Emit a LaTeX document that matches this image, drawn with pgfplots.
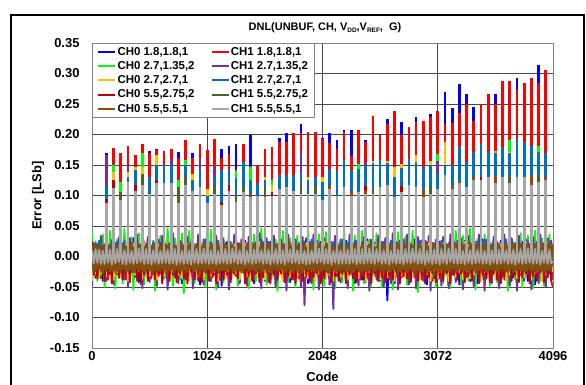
\documentclass[border=0pt]{standalone}
\usepackage{fontspec}
\setmainfont{Liberation Sans}
\usepackage{pgfplots}
\usepackage{pgfplotstable}
\pgfplotsset{compat=1.18}
\definecolor{cB}{HTML}{0000FF}
\definecolor{cR}{HTML}{FF0000}
\definecolor{cG}{HTML}{00FF00}
\definecolor{cP}{HTML}{7030A0}
\definecolor{cO}{HTML}{FFC000}
\definecolor{cS}{HTML}{0070C0}
\definecolor{cD}{HTML}{C00000}
\definecolor{cV}{HTML}{4F6228}
\definecolor{cN}{HTML}{984807}
\definecolor{cA}{HTML}{A6A6A6}
\newcommand\sub[1]{\raisebox{-0.3ex}{\fontsize{6.5}{7}\selectfont #1}}
% DNL in thousandths of an LSb: spike codes (every 64th code)
\pgfplotstableread{
x B R G P O S D V N A
128 170 150 72 166 72 117 95 72 72 87
192 97 178 150 97 139 97 125 97 97 112
256 77 169 122 77 77 77 77 105 77 92
320 107 181 107 146 138 130 107 107 107 122
384 93 166 93 93 146 141 117 93 93 108
448 102 184 169 102 147 102 102 136 102 117
512 173 169 88 88 88 130 88 88 88 103
576 176 174 105 105 166 150 125 105 105 120
640 105 173 105 105 105 150 105 105 105 120
704 105 176 105 160 105 150 105 105 105 120
768 171 161 126 72 72 72 72 114 92 87
832 102 191 158 102 102 150 102 131 102 117
896 170 161 93 93 136 125 93 93 93 108
960 99 184 99 161 99 141 99 99 99 114
1024 73 174 73 73 110 100 73 73 73 88
1088 88 192 88 146 88 130 88 117 88 103
1152 177 162 69 69 69 141 90 69 69 84
1216 181 168 93 93 93 141 118 93 93 108
1280 184 144 140 74 74 128 74 100 74 89
1344 91 184 91 91 91 155 91 114 91 106
1408 200 148 147 83 83 125 83 83 103 98
1472 85 150 85 85 85 120 85 85 85 100
1536 83 177 83 83 130 125 83 115 83 98
1600 85 179 125 85 118 85 105 85 85 100
1664 195 187 96 96 96 133 96 96 96 111
1728 202 188 99 99 99 133 99 99 99 114
1792 93 202 93 93 93 133 93 93 93 108
1856 218 202 88 171 88 136 88 120 88 103
1920 88 204 88 88 131 125 88 88 88 103
1984 88 204 88 88 88 131 88 117 88 103
2048 195 192 77 77 131 122 77 77 77 92
2112 202 186 96 96 96 144 96 96 115 111
2176 191 177 85 85 85 140 85 85 85 100
2240 207 204 99 99 99 158 99 116 99 114
2304 207 164 85 85 85 141 85 85 108 100
2368 91 207 152 91 91 144 91 91 91 106
2432 191 188 88 155 88 146 115 88 107 103
2496 88 230 88 88 157 153 88 88 110 103
2560 99 199 99 99 99 159 99 99 99 114
2624 226 218 102 102 157 153 102 102 102 117
2688 83 238 83 83 147 130 83 83 83 98
2752 221 199 91 91 152 145 115 91 91 106
2816 102 213 102 162 102 160 102 102 102 117
2880 229 221 99 99 166 155 99 99 99 114
2944 83 222 83 83 83 147 83 83 110 98
3008 234 228 88 88 156 150 88 115 88 103
3072 95 238 168 156 95 136 95 95 95 110
3136 270 218 118 118 188 150 118 118 118 133
3200 243 219 96 96 96 150 96 96 115 111
3264 282 236 105 105 105 180 105 105 122 120
3328 266 250 99 99 99 155 99 99 99 114
3392 245 222 110 110 110 172 110 110 130 125
3456 110 250 110 110 110 184 130 110 110 125
3520 115 266 115 115 115 171 115 115 115 130
3584 266 250 105 105 173 170 105 105 132 120
3648 115 288 115 115 115 180 115 115 115 130
3712 105 288 191 105 172 170 105 132 105 120
3776 293 273 115 115 115 192 115 115 115 130
3840 115 284 115 115 115 188 115 115 115 130
3904 103 292 103 103 103 181 103 103 132 118
3968 314 284 181 107 107 171 107 135 107 122
4032 110 306 110 110 110 169 110 110 130 125
}\spk
% DNL in thousandths of an LSb: codes between the spikes
\pgfplotstableread{
x B R G P O S D V N A
0 -30 20 40 -49 -40 10 25 -22 18 10
16 12 -28 -22 22 15 -20 -30 18 -22 -11
32 -35 15 25 -32 -28 22 10 -24 20 12
48 20 -32 -40 18 8 -14 -36 16 -21 -10
64 -18 10 12 -30 -36 26 5 -20 16 11
80 26 -36 -30 34 20 -24 -22 19 -24 -12
96 -40 22 36 -18 -22 14 16 -26 19 9
112 14 -16 -50 20 12 -22 -40 15 -20 -12
128 -24 24 18 -40 -32 28 4 -22 22 12
144 18 -38 -24 12 22 -17 -30 18 -19 -10
160 -28 12 42 -24 -12 20 14 -25 17 11
176 22 -24 -15 27 16 -26 -44 20 -23 -13
192 -44 18 18 -46 -38 12 8 -21 20 10
208 10 -30 -52 22 6 -20 -26 17 -25 -11
224 -22 20 28 -29 -26 24 18 -23 18 12
240 28 -34 -26 32 18 -16 -35 14 -22 -9
256 -32 14 24 -20 -34 18 10 -27 21 11
272 16 -20 -44 22 10 -24 -38 19 -20 -12
288 -20 22 45 -38 -20 26 2 -20 16 10
304 24 -38 -20 15 24 -18 -28 16 -24 -13
320 -38 16 14 -50 -40 14 20 -24 19 12
336 8 -26 -36 30 14 -28 -42 21 -21 -10
352 -26 20 32 -26 -16 22 12 -22 22 9
368 30 -32 -54 24 20 -14 -24 15 -26 -12
384 -18 10 20 -34 -30 25 6 -26 17 11
400 20 -40 -26 36 8 -22 -36 18 -19 -11
416 -42 24 38 -26 -24 16 16 -21 20 13
432 12 -18 -24 18 15 -20 -45 20 -22 -9
448 -30 18 20 -52 -36 28 4 -23 18 10
464 18 -34 -46 24 22 -26 -30 16 -24 -12
480 -24 14 16 -22 -18 12 18 -25 21 12
496 26 -28 -32 32 12 -18 -40 19 -20 -11
512 -36 22 40 -42 -32 20 8 -20 16 11
528 14 -36 -18 18 18 -24 -24 17 -25 -13
544 -20 12 26 -30 -22 24 14 -27 19 10
560 22 -22 -56 16 6 -16 -38 21 -21 -10
576 -46 18 22 -48 -38 16 0 -22 22 12
592 10 -30 -30 28 20 -28 -32 15 -23 -12
608 -26 20 34 -28 -14 22 20 -24 17 9
624 28 -38 -42 34 14 -20 -44 18 -19 -11
640 -30 16 12 -36 -34 26 6 -21 20 13
656 16 -24 -34 20 24 -14 -26 20 -24 -10
672 -40 24 46 -54 -26 14 12 -26 18 11
688 20 -32 -22 22 10 -26 -40 16 -22 -12
704 -22 10 18 -24 -40 28 16 -20 21 10
720 26 -40 -48 38 16 -22 -30 19 -26 -11
736 -34 20 30 -32 -20 18 4 -23 16 12
752 12 -26 -28 22 22 -18 -42 17 -20 -13
768 -28 16 18 -44 -30 24 10 -25 19 11
784 24 -34 -38 26 12 -24 -28 21 -23 -10
800 -44 22 38 -26 -36 16 18 -22 22 9
816 14 -20 -60 18 8 -20 -36 15 -21 -12
832 -20 14 24 -38 -24 22 2 -27 17 12
848 30 -38 -28 32 20 -28 -44 18 -24 -11
864 -32 18 42 -28 -40 12 14 -20 20 10
880 18 -28 -20 24 14 -16 -24 20 -19 -13
896 -38 24 24 -52 -22 26 8 -24 21 11
912 10 -32 -44 20 18 -22 -38 16 -25 -10
928 -24 12 14 -22 -34 20 20 -21 18 12
944 22 -40 -32 36 10 -26 -30 19 -22 -12
960 -46 20 36 -34 -28 14 6 -26 16 9
976 16 -22 -26 16 22 -18 -42 17 -20 -11
992 -26 18 20 -46 -38 28 16 -23 22 13
1008 28 -36 -50 28 8 -24 -26 21 -24 -10
1024 -30 16 20 -28 -20 18 12 -20 19 11
1040 20 -26 -36 22 20 -20 -40 15 -21 -12
1056 -40 22 44 -40 -32 24 4 -25 20 10
1072 12 -34 -18 20 14 -28 -32 18 -26 -11
1088 -22 14 28 -30 -26 14 18 -22 17 12
1104 26 -20 -54 34 6 -16 -44 20 -20 -13
1120 -34 20 16 -50 -40 26 8 -27 21 9
1136 14 -38 -26 24 24 -22 -26 16 -23 -11
1152 -48 18 34 -24 -18 20 14 -21 18 11
1168 20 -30 -42 30 12 -26 -38 19 -22 -10
1184 -24 12 16 -36 -36 16 2 -24 22 12
1200 24 -24 -24 18 18 -18 -30 17 -25 -12
1216 -36 24 40 -54 -24 28 16 -20 16 10
1232 10 -36 -38 24 10 -24 -42 21 -19 -11
1248 -26 16 18 -30 -34 12 10 -26 20 13
1264 30 -28 -30 36 20 -20 -28 15 -24 -9
1280 -32 20 30 -32 -28 22 6 -22 19 12
1296 16 -40 -48 22 14 -28 -36 18 -21 -12
1312 -42 14 22 -44 -38 18 18 -23 21 10
1328 18 -22 -22 28 8 -16 -24 20 -26 -11
1344 -20 22 42 -26 -22 26 12 -27 17 11
1360 26 -32 -30 20 22 -22 -44 16 -20 -13
1376 -38 18 20 -48 -32 14 4 -20 22 9
1392 12 -26 -52 32 12 -26 -32 19 -23 -10
1408 -26 12 14 -28 -40 24 20 -25 18 12
1424 22 -38 -28 20 18 -18 -40 17 -22 -12
1440 -44 24 36 -38 -20 20 8 -21 20 11
1456 14 -20 -40 24 10 -24 -28 21 -25 -11
1472 -30 16 24 -24 -34 16 14 -24 16 13
1488 28 -34 -26 38 24 -20 -42 15 -19 -9
1504 -22 20 46 -52 -26 28 2 -26 21 10
1520 18 -30 -20 24 14 -28 -34 18 -24 -12
1536 -40 14 22 -30 -38 12 16 -20 19 12
1552 10 -24 -46 30 20 -16 -26 20 -21 -11
1568 -28 22 20 -42 -24 24 10 -23 22 11
1584 24 -40 -34 18 8 -22 -44 16 -26 -13
1600 -34 16 38 -30 -36 20 6 -27 17 9
1616 20 -28 -26 34 16 -26 -30 19 -20 -10
1632 -46 18 28 -50 -18 16 18 -21 20 12
1648 14 -36 -56 18 22 -20 -38 21 -23 -12
1664 -24 12 16 -26 -30 28 4 -24 18 11
1680 28 -22 -28 26 12 -18 -28 15 -22 -11
1696 -36 24 42 -40 -40 14 14 -20 21 10
1712 16 -34 -22 20 18 -24 -42 18 -25 -13
1728 -20 20 16 -56 -22 22 8 -26 16 12
1744 22 -30 -42 36 10 -28 -32 20 -19 -9
1760 -42 14 30 -26 -34 18 20 -22 22 11
1776 12 -38 -30 20 24 -16 -36 17 -24 -11
1792 -30 22 18 -38 -26 26 10 -25 19 13
1808 26 -26 -50 28 14 -22 -44 16 -21 -10
1824 -26 16 34 -22 -38 12 4 -21 18 10
1840 18 -36 -24 22 20 -26 -26 21 -23 -12
1856 -38 18 24 -50 -20 20 16 -27 20 12
1872 14 -22 -38 32 8 -18 -40 18 -26 -11
1888 -22 24 22 -80 -32 24 12 -20 22 9
1904 30 -34 -28 22 22 -24 -30 15 -20 -13
1920 -44 12 44 -28 -36 16 2 -24 17 11
1936 10 -28 -20 24 16 -20 -42 20 -22 -12
1952 -32 20 18 -44 -24 28 18 -23 21 10
1968 22 -40 -54 36 10 -28 -34 19 -24 -10
1984 -28 16 16 -28 -40 14 6 -26 16 12
2000 18 -24 -24 26 20 -16 -28 17 -19 -11
2016 -40 22 36 -54 -28 22 14 -21 20 13
2032 24 -32 -36 20 14 -22 -44 21 -25 -9
2048 -24 18 24 -34 -22 26 10 -22 18 10
2064 16 -38 -48 30 24 -26 -36 16 -21 -12
2080 -36 14 40 -26 -36 16 4 -25 22 12
2096 20 -20 -22 18 8 -18 -26 20 -23 -11
2112 -46 24 20 -46 -30 20 20 -27 19 11
2128 12 -34 -32 24 18 -24 -42 18 -20 -13
2144 -26 16 18 -86 -40 24 8 -20 17 9
2160 28 -26 -52 34 12 -20 -32 15 -26 -10
2176 -32 20 32 -30 -26 14 16 -24 21 12
2192 14 -36 -28 18 22 -28 -40 19 -22 -12
2208 -42 12 24 -40 -34 28 2 -26 18 10
2224 22 -30 -42 28 14 -16 -28 21 -19 -11
2240 -20 22 46 -24 -20 18 14 -21 20 13
2256 26 -40 -26 20 16 -22 -44 17 -24 -11
2272 -36 18 24 -52 -38 22 10 -23 16 11
2288 10 -22 -20 36 10 -26 -30 16 -21 -12
2304 -30 14 20 -30 -30 16 18 -27 22 10
2320 18 -32 -56 22 20 -18 -36 20 -25 -10
2336 -44 24 34 -36 -24 26 6 -20 19 12
2352 24 -28 -30 26 8 -24 -42 18 -20 -13
2368 -26 16 18 -48 -36 12 12 -24 17 9
2384 16 -38 -24 18 18 -20 -26 15 -23 -11
2400 -38 20 42 -28 -22 24 20 -25 21 12
2416 20 -24 -44 32 14 -28 -38 21 -22 -12
2432 -22 12 16 -42 -40 18 4 -22 18 11
2448 28 -36 -30 20 24 -16 -32 17 -26 -10
2464 -46 22 28 -56 -26 20 16 -21 20 13
2480 12 -30 -48 28 10 -24 -44 19 -19 -11
2496 -28 18 24 -26 -32 28 8 -26 22 10
2512 22 -20 -32 22 20 -22 -28 16 -24 -12
2528 -34 24 38 -38 -18 14 12 -20 16 12
2544 18 -40 -26 34 12 -18 -40 20 -21 -9
2560 -40 16 22 -26 -38 22 2 -23 19 11
2576 14 -26 -50 24 18 -26 -34 18 -23 -12
2592 -24 20 20 -50 -28 24 18 -27 21 10
2608 30 -34 -28 30 14 -20 -42 15 -20 -11
2624 -72 14 36 -28 -34 18 10 -22 17 12
2640 16 -38 -22 22 22 -28 -30 21 -25 -13
2656 -30 22 26 -44 -22 26 6 -24 20 9
2672 22 -24 -54 38 8 -16 -38 17 -22 -10
2688 -44 18 18 -30 -40 16 14 -21 18 12
2704 10 -32 -24 24 16 -24 -26 19 -19 -12
2720 -26 12 40 -54 -24 20 20 -26 22 11
2736 26 -40 -38 18 20 -22 -44 20 -24 -11
2752 -34 24 16 -34 -32 28 4 -20 16 10
2768 18 -22 -24 28 12 -18 -32 16 -21 -13
2784 -20 16 32 -24 -36 12 16 -25 21 12
2800 24 -36 -46 36 18 -26 -36 18 -26 -10
2816 -38 20 22 -46 -20 24 8 -23 19 11
2832 12 -28 -32 20 24 -20 -42 21 -20 -11
2848 -28 14 42 -26 -34 18 12 -21 17 13
2864 28 -34 -28 20 10 -28 -26 15 -23 -9
2880 -42 22 20 -52 -26 22 18 -27 22 10
2896 20 -20 -58 32 16 -16 -40 19 -22 -12
2912 -24 18 16 -28 -38 26 2 -20 20 12
2928 16 -38 -26 26 20 -24 -30 17 -25 -11
2944 -32 16 34 -40 -22 14 16 -24 18 11
2960 26 -26 -40 24 12 -22 -44 20 -19 -13
2976 -46 24 18 -30 -30 20 8 -26 21 9
2992 14 -32 -22 34 22 -28 -34 16 -24 -10
3008 -22 12 44 -56 -40 28 14 -22 16 12
3024 22 -40 -34 22 14 -18 -28 21 -21 -12
3040 -36 20 20 -26 -24 16 20 -21 22 11
3056 18 -24 -50 28 18 -26 -42 18 -23 -11
3072 -28 18 30 -38 -36 22 6 -25 19 10
3088 24 -36 -26 22 10 -20 -32 15 -26 -13
3104 -40 14 16 -48 -26 26 12 -20 20 12
3120 12 -28 -44 32 22 -24 -40 20 -20 -10
3136 -30 22 38 -30 -32 14 18 -27 17 11
3152 20 -22 -30 20 14 -28 -26 19 -22 -12
3168 -44 16 18 -52 -40 18 4 -23 22 13
3184 28 -38 -52 36 8 -16 -44 16 -24 -9
3200 -24 20 24 -30 -20 24 14 -21 18 10
3216 16 -30 -30 24 20 -22 -30 21 -19 -11
3232 -36 12 42 -42 -34 20 10 -26 21 12
3248 22 -26 -24 26 16 -26 -38 17 -25 -12
3264 -46 24 22 -26 -26 28 20 -20 16 11
3280 10 -34 -46 30 12 -18 -28 18 -21 -11
3296 -26 18 34 -54 -38 12 6 -24 20 9
3312 26 -40 -24 20 24 -24 -42 20 -23 -13
3328 -34 14 18 -34 -24 26 16 -22 19 12
3344 18 -24 -40 34 18 -20 -32 15 -26 -10
3360 -40 22 46 -26 -36 16 2 -27 22 10
3376 14 -36 -20 18 10 -28 -40 19 -20 -12
3392 -22 16 20 -50 -30 22 12 -21 17 13
3408 24 -28 -54 22 22 -16 -26 21 -24 -11
3424 -44 20 28 -28 -22 24 18 -25 21 11
3440 16 -38 -28 36 14 -26 -44 16 -22 -10
3456 -28 12 16 -40 -40 18 8 -20 18 12
3472 28 -22 -36 24 20 -22 -30 20 -19 -12
3488 -36 24 36 -56 -26 28 14 -24 20 9
3504 12 -32 -26 28 8 -18 -36 17 -25 -11
3520 -24 18 20 -28 -34 14 20 -26 22 11
3536 20 -40 -48 20 24 -28 -42 19 -21 -13
3552 -42 16 22 -44 -20 20 4 -21 16 10
3568 22 -26 -30 32 16 -24 -28 18 -23 -10
3584 -30 22 40 -26 -38 26 16 -23 19 12
3600 14 -34 -42 24 12 -20 -38 21 -24 -12
3616 -46 14 18 -52 -28 16 10 -27 21 11
3632 26 -20 -28 22 20 -26 -44 15 -20 -11
3648 -22 20 32 -34 -24 22 2 -20 18 13
3664 18 -38 -22 36 14 -16 -32 20 -22 -9
3680 -38 16 18 -30 -40 28 18 -24 22 10
3696 10 -28 -56 18 22 -22 -26 16 -26 -12
3712 -26 24 44 -48 -30 14 12 -22 17 12
3728 28 -36 -28 30 10 -28 -40 19 -19 -11
3744 -34 12 24 -24 -22 20 8 -26 20 11
3760 16 -24 -38 22 18 -24 -30 21 -25 -13
3776 -44 20 26 -56 -36 24 14 -21 16 9
3792 22 -40 -24 34 16 -18 -42 17 -21 -10
3808 -20 18 38 -30 -26 18 20 -23 21 12
3824 24 -30 -50 20 12 -26 -34 18 -23 -12
3840 -36 14 20 -40 -34 22 6 -25 19 11
3856 12 -22 -32 28 24 -20 -28 20 -24 -11
3872 -40 22 34 -28 -20 26 16 -20 22 13
3888 20 -36 -24 20 14 -28 -44 16 -20 -10
3904 -26 16 20 -54 -38 14 10 -27 18 10
3920 26 -26 -52 32 10 -22 -32 19 -22 -12
3936 -46 20 42 -26 -28 20 2 -22 20 12
3952 14 -38 -30 24 20 -16 -40 21 -26 -11
3968 -24 12 18 -44 -24 28 18 -24 17 11
3984 28 -30 -40 36 16 -24 -26 15 -21 -13
4000 -32 24 30 -32 -40 16 12 -21 21 9
4016 18 -24 -48 22 12 -26 -42 18 -24 -10
4032 -42 18 16 -50 -30 22 6 -26 16 12
4048 10 -34 -22 30 22 -20 -34 20 -22 -12
4064 -28 14 36 -26 -22 24 16 -23 22 11
4080 22 -40 -32 26 18 -18 -38 17 -19 -11
4095 -30 -50 20 -34 -25 15 -35 -15 20 -8
}\nse
\begin{document}
\begin{tikzpicture}
\useasboundingbox (0,0) rectangle (586bp,385bp);
\draw[line width=2.5bp] (11bp,-20bp) rectangle (584bp,370bp);
\begin{axis}[
  at={(92bp,37bp)}, anchor=south west,
  scale only axis, width=461bp, height=305bp,
  xmin=0, xmax=4096, ymin=-150, ymax=350,
  xtick={0,1024,2048,3072,4096},
  xticklabels={0,1024,2048,3072,4096},
  ytick={-150,-100,-50,0,50,100,150,200,250,300,350},
  yticklabels={-0.15,-0.10,-0.05,0.00,0.05,0.10,0.15,0.20,0.25,0.30,0.35},
  major tick length=0pt,
  tick label style={font=\fontsize{13}{15}\selectfont\bfseries},
  yticklabel style={xshift=-9bp},
  grid=major,
  major grid style={draw=black!72, line width=0.8bp},
  axis line style={draw=black!50, line width=0.8bp},
  title={DNL(UNBUF, CH, V\sub{DD},V\sub{REF},\ \ G)},
  title style={at={(0.5,1)}, anchor=center, yshift=9bp, xshift=2.5bp,
    font=\fontsize{11}{13}\selectfont\bfseries},
  ylabel={Error [LSb]},
  ylabel style={at={(axis description cs:-0.1171,0.5)}, anchor=center,
    font=\fontsize{13}{15}\selectfont\bfseries},
  xlabel={Code},
  xlabel style={at={(axis description cs:0.5,-0.095)}, anchor=center,
    font=\fontsize{13}{15}\selectfont\bfseries},
  legend columns=2, legend cell align=left,
  legend style={at={(0,1)}, anchor=north west, draw=black!50, line width=0.8bp,
    font=\fontsize{11.5}{13}\selectfont\bfseries, inner xsep=5bp, inner ysep=2.5bp,
    row sep=2.4bp, nodes={inner sep=1.2bp},
    /tikz/every even column/.append style={column sep=15bp}},
  every axis plot/.append style={line width=1.9bp, line join=round},
  no markers,
]
\addplot[cB] table[x=x,y=B]{\nse}; \addlegendentry{CH0 1.8,1.8,1}
\addplot[cB, ycomb, line width=2.7bp, forget plot] table[x=x,y=B]{\spk};
\addplot[cR] table[x=x,y=R]{\nse}; \addlegendentry{CH1 1.8,1.8,1}
\addplot[cR, ycomb, line width=2.7bp, forget plot] table[x=x,y=R]{\spk};
\addplot[cG] table[x=x,y=G]{\nse}; \addlegendentry{CH0 2.7,1.35,2}
\addplot[cG, ycomb, line width=2.7bp, forget plot] table[x=x,y=G]{\spk};
\addplot[cP] table[x=x,y=P]{\nse}; \addlegendentry{CH1 2.7,1.35,2}
\addplot[cP, ycomb, line width=2.7bp, forget plot] table[x=x,y=P]{\spk};
\addplot[cO] table[x=x,y=O]{\nse}; \addlegendentry{CH0 2.7,2.7,1}
\addplot[cO, ycomb, line width=2.7bp, forget plot] table[x=x,y=O]{\spk};
\addplot[cS] table[x=x,y=S]{\nse}; \addlegendentry{CH1 2.7,2.7,1}
\addplot[cS, ycomb, line width=2.7bp, forget plot] table[x=x,y=S]{\spk};
\addplot[cD] table[x=x,y=D]{\nse}; \addlegendentry{CH0 5.5,2.75,2}
\addplot[cD, ycomb, line width=2.7bp, forget plot] table[x=x,y=D]{\spk};
\addplot[cV] table[x=x,y=V]{\nse}; \addlegendentry{CH1 5.5,2.75,2}
\addplot[cV, ycomb, line width=2.7bp, forget plot] table[x=x,y=V]{\spk};
\addplot[cN] table[x=x,y=N]{\nse}; \addlegendentry{CH0 5.5,5.5,1}
\addplot[cN, ycomb, line width=2.7bp, forget plot] table[x=x,y=N]{\spk};
\addplot[cA] table[x=x,y=A]{\nse}; \addlegendentry{CH1 5.5,5.5,1}
\addplot[cA, ycomb, line width=2.7bp, forget plot] table[x=x,y=A]{\spk};
\end{axis}
\end{tikzpicture}
\end{document}
